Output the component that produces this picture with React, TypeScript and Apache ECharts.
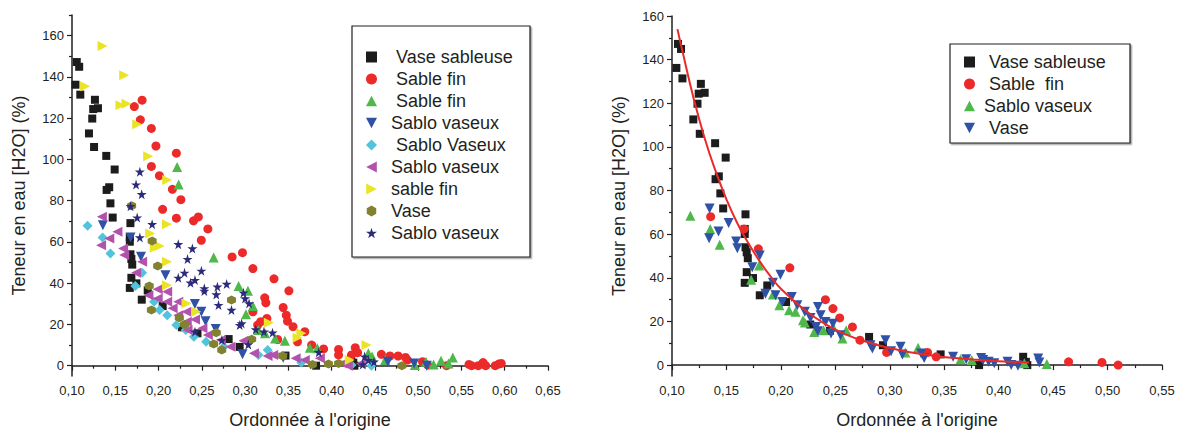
import React, { useEffect, useRef } from "react";
import * as echarts from "echarts";

const FONT = '"Liberation Sans", Arial, Helvetica, sans-serif';

// ---------- Left chart data ----------
const vaseSableuse: number[][] = [
  [0.1055, 147.2], [0.1083, 144.9], [0.104, 136.2], [0.1096, 131.4], [0.1265, 128.9], [0.1245, 124.4],
  [0.130, 124.8], [0.1234, 119.8], [0.1196, 112.6], [0.1255, 106], [0.1396, 101.7], [0.1493, 95.1],
  [0.143, 86.5], [0.140, 85.2], [0.1444, 78.7], [0.147, 71.8], [0.1675, 69.1], [0.1668, 62.4],
  [0.1668, 60.1], [0.1675, 54], [0.1686, 51.7], [0.1696, 49], [0.1686, 42.6], [0.1668, 37.7],
  [0.1744, 39.9], [0.1806, 32], [0.1875, 36.5], [0.2048, 28.9], [0.227, 18.6], [0.245, 15.7],
  [0.281, 12.9], [0.2937, 9.1], [0.3467, 4.9], [0.382, 0], [0.4225, 3.8], [0.425, 1.5], [0.4263, 0],
];
const sableFinRouge: number[][] = [
  [0.172, 125.6], [0.181, 128.7], [0.179, 119.2], [0.1917, 115], [0.197, 106.5], [0.2206, 103],
  [0.1917, 96.6], [0.201, 92.1], [0.216, 85.5], [0.2258, 80.5], [0.2047, 75.8], [0.2206, 71.5],
  [0.2404, 70.2], [0.246, 72.1], [0.257, 66.3], [0.2494, 60.8], [0.285, 52.7], [0.297, 54.8],
  [0.309, 47.1], [0.3334, 42.1], [0.3506, 36.3], [0.3227, 32.9], [0.324, 30.5], [0.309, 26.1],
  [0.3252, 22.9], [0.344, 28.2], [0.3476, 24.5], [0.349, 21.6], [0.3554, 18.9], [0.369, 16.5],
  [0.3605, 11.6], [0.3145, 19.7], [0.318, 21.3], [0.3377, 12.7], [0.3769, 10], [0.3907, 8.1],
  [0.408, 7.9], [0.408, 5.2], [0.4273, 8.7], [0.423, 5.2], [0.43, 6.3], [0.4575, 5.5], [0.4674, 4.7],
  [0.4768, 4.7], [0.4854, 4.0], [0.4876, 2.7], [0.505, 1.9], [0.511, 0.3], [0.5328, 0], [0.5587, 0.6],
  [0.5617, 0], [0.5694, 0], [0.575, 1.5], [0.578, 0], [0.589, 0], [0.593, 0.8], [0.596, 1.1],
];
const sableFinVert: number[][] = [
  [0.2215, 96.3], [0.2232, 87.8], [0.2637, 52.5], [0.2925, 38.6], [0.3033, 36.3], [0.309, 28.9],
  [0.301, 24.9], [0.3153, 17.3], [0.323, 15.7], [0.3347, 13.2], [0.346, 12.1], [0.3748, 8.7],
  [0.3834, 8.4], [0.4424, 6], [0.4467, 4.4], [0.4618, 2.7], [0.4962, 0.3], [0.509, 1.9],
  [0.5178, 0.6], [0.5264, 2.4], [0.535, 1.1], [0.54, 4],
];
const sabloVaseuxBleu: number[][] = [
  [0.1357, 68.1], [0.1676, 62.2], [0.1797, 52.8], [0.208, 43.9], [0.242, 29.9], [0.2495, 26.2],
  [0.2543, 21.6], [0.266, 17.8], [0.297, 5.5], [0.344, 3.9], [0.465, 1.9], [0.4954, 1.1], [0.51, 0],
];
const sabloVaseuxCyan: number[][] = [
  [0.118, 67.8], [0.1353, 62.2], [0.1444, 54.4], [0.1732, 38.6], [0.181, 45], [0.1948, 31],
  [0.2012, 27], [0.21, 24.5], [0.2206, 19.7], [0.2314, 17.3], [0.2408, 14], [0.255, 11.6],
  [0.2753, 9.2], [0.3153, 5.2], [0.3261, 7.6], [0.365, 1.5], [0.423, 0.3], [0.4459, 0],
];
const sabloVaseuxMagenta: number[][] = [
  [0.1345, 72.2], [0.1336, 58.4], [0.1431, 61.7], [0.1525, 64.9], [0.159, 56.8], [0.1603, 53.6],
  [0.174, 45], [0.181, 50.4], [0.1883, 34.2], [0.199, 37], [0.199, 32.6], [0.21, 31], [0.21, 35.8],
  [0.2163, 27.8], [0.2228, 31], [0.2228, 24.5], [0.2322, 26.2], [0.2326, 21.3], [0.2335, 17.3],
  [0.2421, 22.4], [0.2507, 18.1], [0.257, 14.9], [0.272, 12.4], [0.283, 9.2], [0.2981, 12.1],
  [0.3102, 6], [0.326, 4.7], [0.3325, 5.2], [0.3584, 3.6], [0.369, 2.7], [0.3864, 3.6],
  [0.4122, 1.1], [0.4187, 0], [0.4338, 1.1],
];
const sableFinJaune: number[][] = [
  [0.1353, 155], [0.1151, 135.5], [0.1603, 140.8], [0.156, 126.3], [0.163, 127], [0.1754, 117],
  [0.188, 101.5], [0.21, 90], [0.2098, 68.6], [0.1904, 64.1], [0.1956, 57.2], [0.2012, 58],
  [0.2098, 50.4], [0.2098, 39], [0.2322, 30.2], [0.2434, 26.2], [0.3274, 20.8], [0.3606, 13.6],
  [0.365, 15.7], [0.4209, 2.7], [0.4403, 10],
];
const vaseOlive: number[][] = [
  [0.1689, 77.5], [0.1926, 60.5], [0.199, 48.3], [0.1892, 38.6], [0.1917, 27], [0.224, 23.2],
  [0.23, 20], [0.2667, 16], [0.2637, 10.5], [0.273, 7.6], [0.2843, 31.8], [0.3076, 12.8],
  [0.3434, 4.7], [0.3778, 0.6], [0.3963, 0.8], [0.408, 1.1], [0.4812, 0],
];
const sabloVaseuxEtoile: number[][] = [
  [0.1784, 94], [0.174, 87.8], [0.1805, 83.1], [0.1676, 77.3], [0.1753, 71.8], [0.1784, 62.2],
  [0.1926, 68.6], [0.2228, 58.9], [0.2391, 56.8], [0.2335, 51.7], [0.2495, 46], [0.23, 45],
  [0.2228, 42.6], [0.2369, 40.2], [0.2421, 41.5], [0.2529, 37.5], [0.2529, 36.2], [0.268, 38.3],
  [0.2787, 39.6], [0.2667, 34.5], [0.2693, 29.4], [0.2843, 27], [0.2981, 35.4], [0.3, 32.6],
  [0.3046, 30.2], [0.296, 20.5], [0.2938, 19.7], [0.3123, 17.6], [0.3218, 16.5], [0.3317, 16],
  [0.2421, 16.5], [0.2731, 12.4], [0.3037, 10.3], [0.3851, 6.5], [0.4381, 4.4], [0.4424, 2.7],
  [0.4489, 1.9], [0.4359, 0.6],
];

// ---------- Right chart data ----------
const rSableFin: number[][] = [
  [0.1355, 68], [0.1662, 62.4], [0.1793, 53.3], [0.2082, 44.6], [0.2409, 30], [0.2478, 25.9],
  [0.254, 21.6], [0.2657, 17.5], [0.2726, 11.4], [0.2971, 5.8], [0.3347, 5.8], [0.3426, 3.8],
  [0.4642, 1.5], [0.4949, 1.2], [0.5097, 0],
];
const rSabloVaseux: number[][] = [
  [0.1169, 68.5], [0.1351, 62.4], [0.1438, 55.1], [0.18, 45.7], [0.1727, 39.1], [0.1927, 32.4],
  [0.1986, 27.4], [0.2075, 25.1], [0.2134, 24.4], [0.2203, 20.5], [0.222, 19.5], [0.2392, 16],
  [0.2478, 17.5], [0.2565, 12.2], [0.26, 16], [0.2306, 15.2], [0.3143, 5.8], [0.326, 7.9],
  [0.365, 2.7], [0.3753, 2.3], [0.4236, 0.8], [0.4442, 0.5],
];
const rVase: number[][] = [
  [0.1345, 71.8], [0.1341, 58.1], [0.1427, 61.2], [0.152, 65.1], [0.1589, 56.6], [0.16, 53.6],
  [0.1737, 44.9], [0.1806, 50.2], [0.1858, 32.7], [0.1927, 37.7], [0.1951, 32], [0.1996, 41.4],
  [0.2013, 28.9], [0.21, 31.2], [0.2151, 27.4], [0.222, 24.4], [0.2272, 21.6], [0.2323, 17.5],
  [0.234, 15.5], [0.234, 26.6], [0.2365, 22.8], [0.2409, 19.8], [0.2478, 19], [0.2461, 14.5],
  [0.2547, 13.7], [0.2823, 9.1], [0.284, 7.6], [0.2961, 11.4], [0.3012, 6.4], [0.3099, 8.4],
  [0.3116, 4.9], [0.3288, 5.3], [0.3316, 3.3], [0.3581, 3.8], [0.3702, 2.7], [0.3839, 3.3],
  [0.3857, 2.3], [0.3908, 1.5], [0.396, 0.8], [0.4081, 1.5], [0.4115, 0], [0.4177, -0.3],
  [0.4363, 3], [0.4374, 1.2],
];
// fitted curve
const fitCurve: number[][] = [
  [0.105, 154], [0.11, 143], [0.12, 122], [0.13, 104], [0.14, 89], [0.15, 76], [0.16, 65],
  [0.17, 56], [0.18, 48], [0.19, 41], [0.20, 35], [0.22, 26], [0.24, 19], [0.26, 14],
  [0.28, 10.5], [0.30, 7.8], [0.32, 5.8], [0.34, 4.3], [0.36, 3.2], [0.38, 2.4], [0.40, 1.8],
  [0.428, 1.2],
];

const leftLabels: Record<string, string> = {
  L1: " Vase sableuse", L2: " Sable fin", L3: " Sable fin", L4: "Sablo vaseux", L5: " Sablo Vaseux",
  L6: "Sablo vaseux", L7: "sable fin", L8: "Vase", L9: "Sablo vaseux",
};
const rightLabels: Record<string, string> = {
  R1: " Vase sableuse", R2: " Sable  fin", R3: "Sablo vaseux", R4: " Vase",
};
const yMajor = [0, 20, 40, 60, 80, 100, 120, 140, 160];
const yMinorL = [10, 30, 50, 70, 90, 110, 130, 150, 170];
const yMinorR = [10, 30, 50, 70, 90, 110, 130, 150];

const STAR = "path://M50,0 L61,35 L98,35 L68,57 L79,91 L50,70 L21,91 L32,57 L2,35 L39,35 Z";
const HEX = "path://M50,0 L93,25 L93,75 L50,100 L7,75 L7,25 Z";
const TRI_UP = "path://M50,5 L95,92 L5,92 Z";
const TRI_DOWN = "path://M5,8 L95,8 L50,95 Z";
const TRI_LEFT = "path://M5,50 L92,5 L92,95 Z";
const TRI_RIGHT = "path://M8,5 L95,50 L8,95 Z";

const C = {
  black: "#1c1c1c", red: "#ec2a2a", green: "#4fb84a", blue: "#2f52a6", cyan: "#52c3dc",
  magenta: "#b252ad", yellow: "#ebe325", olive: "#81812f", navy: "#2c2b7a",
};

function sc(name: string, data: number[][], color: string, symbol: string, size: number, g: number) {
  return {
    type: "scatter", name, data, xAxisIndex: g, yAxisIndex: g * 2, symbol, symbolSize: size,
    itemStyle: { color, opacity: 1 }, emphasis: { disabled: true },
  };
}

function xAxis(g: number, max: number) {
  return {
    type: "value", gridIndex: g, min: 0.1, max, interval: 0.05,
    name: "Ordonnée à l'origine", nameLocation: "middle", nameGap: 35,
    nameTextStyle: { fontFamily: FONT, fontSize: 18, color: "#231f20" },
    axisLine: { lineStyle: { color: "#231f20", width: 1.5 } },
    axisTick: { length: 5, lineStyle: { color: "#231f20", width: 1.2 } },
    minorTick: { show: true, splitNumber: 2, length: 3, lineStyle: { color: "#231f20", width: 1.2 } },
    splitLine: { show: false }, minorSplitLine: { show: false },
    axisLabel: {
      fontFamily: FONT, fontSize: 13, color: "#231f20", margin: 8,
      formatter: (v: number) => v.toFixed(2).replace(".", ","),
    },
  };
}
function yAxes(g: number, max: number, minor: number[]) {
  return [
    {
      type: "value", gridIndex: g, min: -5, max,
      name: "Teneur en eau [H2O] (%)", nameLocation: "middle", nameGap: 44,
      nameTextStyle: { fontFamily: FONT, fontSize: 18, color: "#231f20" },
      axisLine: { show: true, lineStyle: { color: "#231f20", width: 1.5 } },
      axisTick: { show: true, length: 5, customValues: yMajor, lineStyle: { color: "#231f20", width: 1.2 } },
      axisLabel: { fontFamily: FONT, fontSize: 13, color: "#231f20", margin: 8, customValues: yMajor },
      splitLine: { show: false },
    },
    {
      type: "value", gridIndex: g, min: -5, max, position: "left",
      axisLine: { show: false },
      axisTick: { show: true, length: 3, customValues: minor, lineStyle: { color: "#231f20", width: 1.2 } },
      axisLabel: { show: false, customValues: minor },
      splitLine: { show: false },
    },
  ];
}

export default function App() {
  const ref = useRef<HTMLDivElement>(null);
  useEffect(() => {
    if (!ref.current) return;
    const chart = echarts.init(ref.current, undefined, { renderer: "svg" });
    const legendTextL = { fontFamily: FONT, fontSize: 18, color: "#231f20", lineHeight: 18, padding: [0, 0, 0, 9] };
    const legendTextR = { fontFamily: FONT, fontSize: 18, color: "#231f20", lineHeight: 18, padding: [0, 0, 0, 4] };
    chart.setOption({
      animation: false,
      backgroundColor: "#ffffff",
      textStyle: { fontFamily: FONT },
      grid: [
        { left: 72, top: 15, width: 476, height: 362 },
        { left: 672, top: 16, width: 490, height: 361 },
      ],
      xAxis: [xAxis(0, 0.65), xAxis(1, 0.55)],
      yAxis: [...yAxes(0, 170, yMinorL), ...yAxes(1, 160, yMinorR)],
      graphic: [
        { type: "rect", shape: { x: 352, y: 26, width: 178, height: 231 }, z: 0,
          style: { fill: "#fff", stroke: "#231f20", lineWidth: 1.2, shadowColor: "rgba(0,0,0,0.35)", shadowOffsetX: 1.5, shadowOffsetY: 1.5, shadowBlur: 1 } },
        { type: "rect", shape: { x: 950, y: 44, width: 180, height: 99 }, z: 0,
          style: { fill: "#fff", stroke: "#231f20", lineWidth: 1.2, shadowColor: "rgba(0,0,0,0.35)", shadowOffsetX: 1.5, shadowOffsetY: 1.5, shadowBlur: 1 } },
      ],
      legend: [
        {
          data: ["L1", "L2", "L3", "L4", "L5", "L6", "L7", "L8", "L9"], orient: "vertical",
          left: 366, top: 48, itemGap: 4, itemWidth: 11, itemHeight: 11,
          textStyle: legendTextL, formatter: (n: string) => leftLabels[n] ?? n, selectedMode: false, padding: 0,
        },
        {
          data: ["R1", "R2", "R3", "R4"], orient: "vertical",
          left: 964, top: 53, itemGap: 4, itemWidth: 11, itemHeight: 11,
          textStyle: legendTextR, formatter: (n: string) => rightLabels[n] ?? n, selectedMode: false, padding: 0,
        },
      ],
      series: [
        sc("L1", vaseSableuse, C.black, "rect", 8, 0),
        sc("L2", sableFinRouge, C.red, "circle", 9, 0),
        sc("L3", sableFinVert, C.green, TRI_UP, 10, 0),
        sc("L4", sabloVaseuxBleu, C.blue, TRI_DOWN, 10, 0),
        sc("L5", sabloVaseuxCyan, C.cyan, "diamond", 10, 0),
        sc("L6", sabloVaseuxMagenta, C.magenta, TRI_LEFT, 10, 0),
        sc("L7", sableFinJaune, C.yellow, TRI_RIGHT, 10, 0),
        sc("L8", vaseOlive, C.olive, HEX, 9, 0),
        sc("L9", sabloVaseuxEtoile, C.navy, STAR, 10, 0),
        sc("R1", vaseSableuse, C.black, "rect", 8, 1),
        sc("R2", rSableFin, C.red, "circle", 9, 1),
        sc("R3", rSabloVaseux, C.green, TRI_UP, 10, 1),
        sc("R4", rVase, C.blue, TRI_DOWN, 10, 1),
        {
          type: "line", name: "fit", data: fitCurve, xAxisIndex: 1, yAxisIndex: 2, smooth: true,
          showSymbol: false, symbol: "none", lineStyle: { color: "#ea2a2a", width: 2 }, z: 5,
          emphasis: { disabled: true },
        },
      ],
    });
    return () => chart.dispose();
  }, []);
  return <div ref={ref} style={{ position: "fixed", left: 0, top: 0, width: 1186, height: 434, background: "#fff" }} />;
}
